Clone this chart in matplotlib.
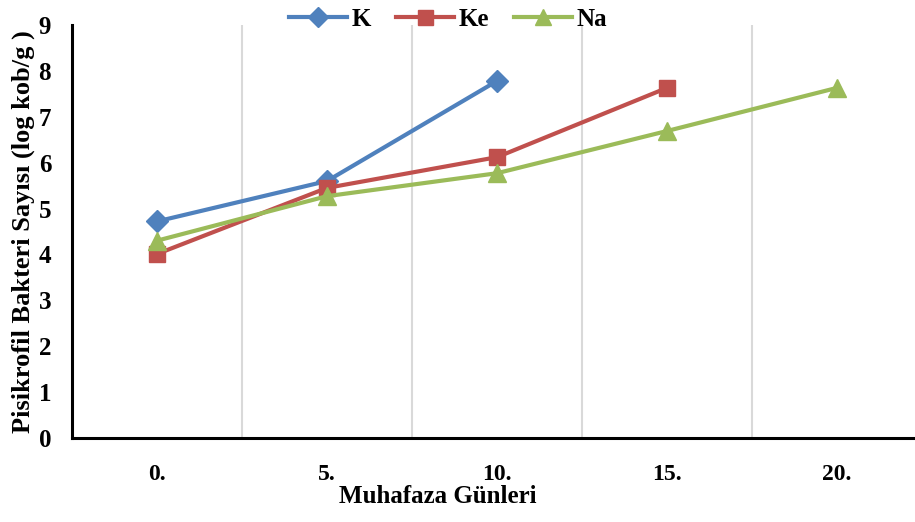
import matplotlib
matplotlib.use("Agg")
import matplotlib.pyplot as plt
import numpy as np

categories = ["0.", "5.", "10.", "15.", "20."]
k_vals = [4.72, 5.60, 7.78]
ke_vals = [4.01, 5.45, 6.12, 7.63]
na_vals = [4.30, 5.27, 5.77, 6.69, 7.63]
yticks = [0, 1, 2, 3, 4, 5, 6, 7, 8, 9]

plt.rcParams['font.family'] = ['Liberation Serif', 'DejaVu Serif']

fig = plt.figure(figsize=(9.15, 5.22), dpi=100)
ax = fig.add_axes([72/915, 1-438/522, 850/915, (438-25)/522])

x = np.arange(len(categories))
ax.plot(x[:len(k_vals)], k_vals, color="#4F81BD", lw=3, marker="D", ms=11, label="K")
ax.plot(x[:len(ke_vals)], ke_vals, color="#C0504D", lw=3, marker="s", ms=12, label="Ke")
ax.plot(x[:len(na_vals)], na_vals, color="#9BBB59", lw=3, marker="^", ms=13, label="Na")

ax.set_xlim(-0.5, len(categories) - 0.5)
ax.set_ylim(0, 9)
ax.set_yticks(yticks)
ax.set_yticklabels([str(v) for v in yticks], fontsize=18, fontweight="bold")
ax.set_xticks(x)
ax.set_xticklabels(categories, fontsize=17, fontweight="bold")
ax.set_xticks(np.arange(0.5, len(categories) - 0.5, 1), minor=True)
ax.grid(which="minor", axis="x", color="#D9D9D9", lw=1.5)
ax.tick_params(axis="both", which="both", length=0)
ax.tick_params(axis="y", pad=15)
ax.tick_params(axis="x", pad=19)

for s in ["top", "right"]:
    ax.spines[s].set_visible(False)
for s in ["left", "bottom"]:
    ax.spines[s].set_linewidth(2.2)
    ax.spines[s].set_color("black")
ax.spines["bottom"].set_clip_on(False)

ax.set_xlabel("Muhafaza Günleri", fontsize=18, fontweight="bold")
ax.set_ylabel("Pisikrofil Bakteri Sayısı (log kob/g )", fontsize=19, fontweight="bold")
ax.yaxis.set_label_coords(-0.044, 0.5)
ax.xaxis.set_label_coords(0.43, -0.113)

leg = fig.legend(loc="upper center", bbox_to_anchor=(0.49, 1.028), ncol=3, frameon=False,
                 prop={"size": 18, "weight": "bold"}, handlelength=2.3, columnspacing=1.0,
                 handletextpad=0.2, markerscale=0.9)

fig.savefig("out.png", dpi=100)
